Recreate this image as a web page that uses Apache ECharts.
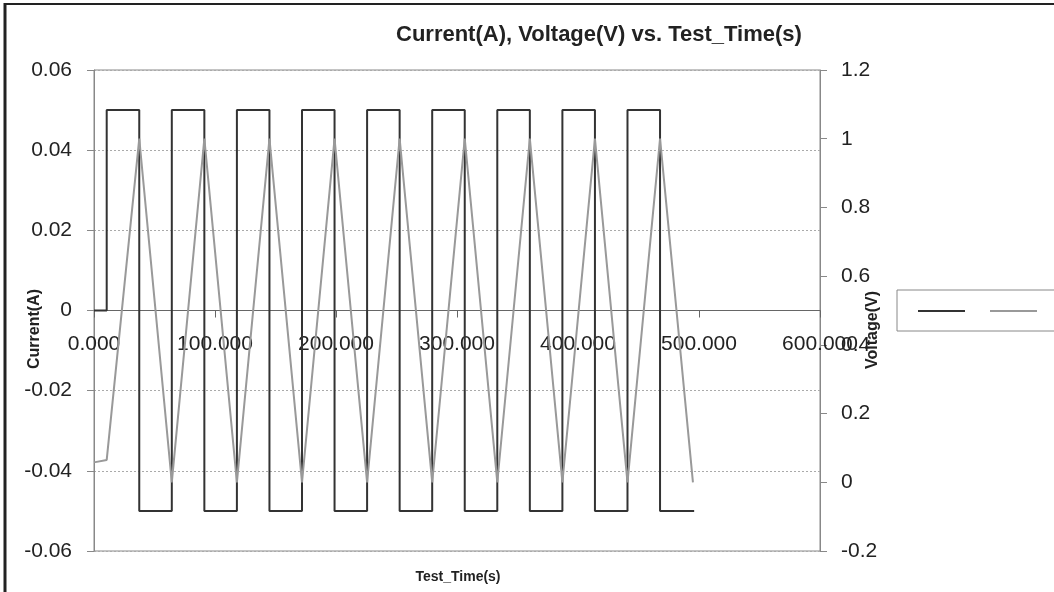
<!DOCTYPE html>
<html>
<head>
<meta charset="utf-8">
<script src="https://cdn.jsdelivr.net/npm/echarts@6/dist/echarts.min.js"></script>
<style>
  html, body { margin: 0; padding: 0; background: #fff; }
  #chart { width: 1054px; height: 592px; }
</style>
</head>
<body>
<div id="chart"></div>
<script>
// current step trace (s, A)
const currentTime = [0, 10.5, 10.5, 37.4, 37.4, 64.3, 64.3, 91.2, 91.2, 118.1, 118.1, 145, 145,
  171.9, 171.9, 198.8, 198.8, 225.7, 225.7, 252.6, 252.6, 279.5, 279.5, 306.4, 306.4, 333.3, 333.3,
  360.2, 360.2, 387.1, 387.1, 414, 414, 440.9, 440.9, 467.8, 467.8, 496];
const currentValue = [0, 0, 0.05, 0.05, -0.05, -0.05, 0.05, 0.05, -0.05, -0.05, 0.05, 0.05, -0.05,
  -0.05, 0.05, 0.05, -0.05, -0.05, 0.05, 0.05, -0.05, -0.05, 0.05, 0.05, -0.05, -0.05, 0.05,
  0.05, -0.05, -0.05, 0.05, 0.05, -0.05, -0.05, 0.05, 0.05, -0.05, -0.05];

// voltage triangle trace (s, V)
const voltageTime = [0, 10.5, 37.4, 64.3, 91.2, 118.1, 145, 171.9, 198.8, 225.7, 252.6, 279.5,
  306.4, 333.3, 360.2, 387.1, 414, 440.9, 467.8, 495];
const voltageValue = [0.058, 0.065, 1.0, 0.0, 1.0, 0.0, 1.0, 0.0, 1.0, 0.0, 1.0, 0.0,
  1.0, 0.0, 1.0, 0.0, 1.0, 0.0, 1.0, 0.0];

const xTicks = [0, 100, 200, 300, 400, 500, 600];
const currentTicks = [-0.06, -0.04, -0.02, 0, 0.02, 0.04, 0.06];
const voltageTicks = [-0.2, 0, 0.2, 0.4, 0.6, 0.8, 1, 1.2];

const FONT = '"Liberation Sans", Arial, sans-serif';
const chart = echarts.init(document.getElementById('chart'));

const gridTop = 70, gridBottom = 41, plotHeight = 592 - gridTop - gridBottom;

const option = {
  animation: false,
  backgroundColor: '#fff',
  title: {
    text: 'Current(A), Voltage(V) vs. Test_Time(s)',
    left: 391,
    top: 19,
    textStyle: { fontFamily: FONT, fontSize: 22, fontWeight: 'bold', color: '#222' }
  },
  legend: {
    left: 897,
    top: 290,
    width: 220,
    orient: 'horizontal',
    padding: [20, 60, 19, 21],
    itemGap: 25,
    itemWidth: 47,
    itemHeight: 2,
    icon: 'rect',
    borderColor: '#888',
    borderWidth: 1,
    formatter: () => '',
    data: ['Current(A)', 'Voltage(V)']
  },
  grid: {
    left: 94, right: 234, top: gridTop, bottom: gridBottom,
    show: true, borderColor: '#888', borderWidth: 1
  },
  xAxis: {
    type: 'value',
    position: 'bottom',
    // sits on the zero of the current axis (half way up the plot)
    offset: -plotHeight / 2,
    min: xTicks[0], max: xTicks[xTicks.length - 1], interval: 100,
    axisLine: { onZero: false, lineStyle: { color: '#666', width: 1 } },
    axisTick: { show: true, length: 7, lineStyle: { color: '#666' } },
    axisLabel: {
      margin: 23, fontFamily: FONT, fontSize: 21, color: '#222',
      formatter: v => v.toFixed(3)
    },
    splitLine: { show: false }
  },
  yAxis: [
    {
      type: 'value',
      min: currentTicks[0], max: currentTicks[currentTicks.length - 1], interval: 0.02,
      axisLine: { show: true, onZero: false, lineStyle: { color: '#888' } },
      axisTick: { show: true, length: 7, lineStyle: { color: '#888' } },
      axisLabel: { margin: 22, fontFamily: FONT, fontSize: 21, color: '#222' },
      splitLine: { show: true, lineStyle: { color: '#aaa', type: [2, 2], width: 1 } }
    },
    {
      type: 'value',
      position: 'right',
      min: voltageTicks[0], max: voltageTicks[voltageTicks.length - 1], interval: 0.2,
      axisLine: { show: true, onZero: false, lineStyle: { color: '#888' } },
      axisTick: { show: true, length: 7, lineStyle: { color: '#888' } },
      axisLabel: { margin: 21, fontFamily: FONT, fontSize: 21, color: '#222' },
      splitLine: { show: false }
    }
  ],
  graphic: [
    { type: 'line', shape: { x1: 5, y1: 3, x2: 5, y2: 592 }, style: { stroke: '#222', lineWidth: 3 } },
    { type: 'line', shape: { x1: 4, y1: 4, x2: 1054, y2: 4 }, style: { stroke: '#222', lineWidth: 2 } },
    {
      type: 'text', x: 35, y: 329, rotation: Math.PI / 2,
      style: { text: 'Current(A)', font: 'bold 16px ' + FONT, fill: '#222', align: 'center', verticalAlign: 'middle' }
    },
    {
      type: 'text', x: 873, y: 330, rotation: Math.PI / 2,
      style: { text: 'Voltage(V)', font: 'bold 16px ' + FONT, fill: '#222', align: 'center', verticalAlign: 'middle' }
    },
    {
      type: 'text', x: 458, y: 577,
      style: { text: 'Test_Time(s)', font: 'bold 14px ' + FONT, fill: '#222', align: 'center', verticalAlign: 'middle' }
    }
  ],
  series: [
    {
      name: 'Current(A)',
      type: 'line',
      yAxisIndex: 0,
      symbol: 'none',
      color: '#333',
      lineStyle: { color: '#333', width: 2 },
      data: currentTime.map((t, i) => [t, currentValue[i]])
    },
    {
      name: 'Voltage(V)',
      type: 'line',
      yAxisIndex: 1,
      symbol: 'none',
      color: '#999',
      lineStyle: { color: '#999', width: 2 },
      data: voltageTime.map((t, i) => [t, voltageValue[i]])
    }
  ]
};

chart.setOption(option);
</script>
</body>
</html>
